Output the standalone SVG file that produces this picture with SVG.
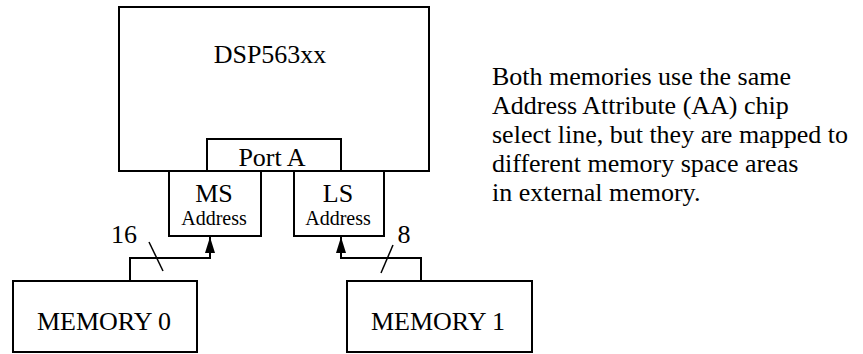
<svg xmlns="http://www.w3.org/2000/svg" width="863" height="354" viewBox="0 0 863 354">
<style>
.box{fill:#fff;stroke:#000;stroke-width:2}
.t{font-family:'Liberation Serif','Times New Roman',serif;font-size:26px;fill:#000}
.s{font-size:20px}
.c{text-anchor:middle}
.ln{fill:none;stroke:#000;stroke-width:2}
.sl{fill:none;stroke:#000;stroke-width:1.5}
</style>
<defs>
<marker id="ah" viewBox="0 0 16 10" refX="16" refY="5" markerWidth="16" markerHeight="10" markerUnits="userSpaceOnUse" orient="auto">
<path d="M0,0 L16,5 L0,10 Z" fill="#000"/>
</marker>
</defs>
<rect width="863" height="354" fill="#fff"/>
<g id="dsp">
<rect class="box" x="119" y="7" width="310" height="164"/>
<text class="t c" x="270" y="63">DSP563xx</text>
</g>
<g id="porta">
<rect class="box" x="207" y="139" width="134" height="32"/>
<text class="t c" x="272" y="166">Port A</text>
</g>
<g id="ms">
<rect class="box" x="169" y="171" width="92" height="65"/>
<text class="t c" x="214" y="202">MS</text>
<text class="t s c" x="214" y="225">Address</text>
</g>
<g id="ls">
<rect class="box" x="294" y="171" width="90" height="65"/>
<text class="t c" x="338" y="202">LS</text>
<text class="t s c" x="338" y="225">Address</text>
</g>
<g id="mem0">
<rect class="box" x="13" y="281" width="184" height="71"/>
<text class="t c" x="104" y="330">MEMORY 0</text>
</g>
<g id="mem1">
<rect class="box" x="347" y="281" width="185" height="71"/>
<text class="t c" x="438" y="330">MEMORY 1</text>
</g>
<g id="connectors">
<polyline class="ln" points="130,281 130,258 210,258 210,237" marker-end="url(#ah)"/>
<polyline class="ln" points="421,281 421,258 341,258 341,237" marker-end="url(#ah)"/>
<line class="sl" x1="149" y1="242" x2="163" y2="271"/>
<line class="sl" x1="393" y1="245" x2="381" y2="273"/>
<text class="t c" x="124" y="243">16</text>
<text class="t c" x="404" y="243">8</text>
</g>
<g id="note">
<text class="t" x="492" y="85">Both memories use the same</text>
<text class="t" x="492" y="114">Address Attribute (AA) chip</text>
<text class="t" x="492" y="143">select line, but they are mapped to</text>
<text class="t" x="492" y="172">different memory space areas</text>
<text class="t" x="492" y="201">in external memory.</text>
</g>
</svg>
